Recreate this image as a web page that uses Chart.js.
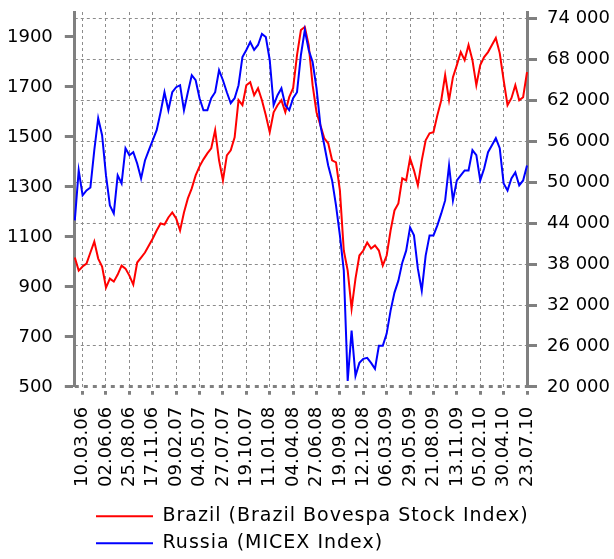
<!DOCTYPE html>
<html>
<head>
<meta charset="utf-8">
<title>Brazil vs Russia stock indices</title>
<script src="https://cdn.jsdelivr.net/npm/chart.js@4.4.1/dist/chart.umd.min.js"></script>
<style>
  html, body { margin: 0; padding: 0; background: #fff; }
  #wrap { width: 614px; height: 559px; }
</style>
</head>
<body>
<div id="wrap"><canvas id="chart"></canvas></div>
<script>
// biweekly closes, first point 10.02.06, last one 23.07.10
const startDate = Date.UTC(2006, 1, 10);
const stepDays = 14;

const tickLabels = ['10.03.06', '02.06.06', '25.08.06', '17.11.06', '09.02.07', '04.05.07',
  '27.07.07', '19.10.07', '11.01.08', '04.04.08', '27.06.08', '19.09.08', '12.12.08',
  '06.03.09', '29.05.09', '21.08.09', '13.11.09', '05.02.10', '30.04.10', '23.07.10'];

// Brazil Bovespa (right axis)
const brazil = [
  38970, 37060, 37650, 38090, 39710, 41320, 38820, 37650, 34560, 35880,
  35440, 36470, 37790, 37350, 36320, 35000, 38240, 38970, 39710, 40740,
  41760, 42940, 43970, 43820, 44850, 45590, 44710, 42940, 45590, 47650,
  49120, 51030, 52350, 53380, 54260, 55000, 57650, 53240, 50290, 53970,
  54710, 56620, 62060, 61320, 64260, 64710, 62790, 63820, 62060, 59850,
  57350, 60290, 61320, 62060, 60290, 62500, 63820, 68680, 72350, 72790,
  70150, 64260, 60290, 58380, 56470, 55740, 53240, 52940, 48820, 40000,
  37060, 31470, 35880, 39270, 40000, 41180, 40290, 40740, 40000, 37790,
  39270, 42940, 45880, 46910, 50590, 50290, 53530, 51770, 49560, 53240,
  56180, 57210, 57350, 59850, 62060, 65740, 62060, 65440, 67210, 69120,
  67940, 70150, 67940, 64260, 67210, 68380, 69120, 70150, 71180, 68970,
  65000, 61320, 62350, 64260, 62060, 62500, 66180
];

// Russia MICEX (left axis)
const russia = [
  1166, 1366, 1266, 1286, 1298, 1447, 1575, 1507, 1346, 1226,
  1194, 1346, 1314, 1455, 1427, 1439, 1394, 1334, 1406, 1447,
  1487, 1527, 1599, 1679, 1607, 1679, 1699, 1707, 1607, 1679,
  1747, 1727, 1655, 1607, 1607, 1655, 1679, 1767, 1727, 1679,
  1635, 1655, 1707, 1820, 1848, 1880, 1848, 1868, 1912, 1900,
  1808, 1627, 1667, 1695, 1627, 1607, 1655, 1679, 1828, 1928,
  1848, 1800, 1695, 1547, 1467, 1386, 1326, 1226, 1106, 965,
  524, 725, 544, 596, 612, 616, 596, 572, 664, 664,
  713, 805, 877, 925, 997, 1045, 1138, 1106, 973, 885,
  1025, 1106, 1106, 1146, 1194, 1246, 1386, 1246, 1326, 1346,
  1366, 1366, 1447, 1427, 1326, 1374, 1439, 1467, 1495, 1455,
  1314, 1286, 1334, 1358, 1306, 1326, 1386
];

const leftTicks = [500, 700, 900, 1100, 1300, 1500, 1700, 1900];
const rightTicks = [20000, 26000, 32000, 38000, 44000, 50000, 56000, 62000, 68000, 74000];

function fmtDate(ms) {
  const d = new Date(ms);
  const p = n => String(n).padStart(2, '0');
  return p(d.getUTCDate()) + '.' + p(d.getUTCMonth() + 1) + '.' + p(d.getUTCFullYear() % 100);
}
const categories = brazil.map((_, i) => fmtDate(startDate + i * stepDays * 864e5));

const AXIS = '#808080';
const GRID = '#8c8c8c';
const font = { family: 'DejaVu Sans', size: 18 };

// scales should not push the plot inward for their edge labels
function noPadding(s) {
  s.paddingTop = 0;
  s.paddingBottom = 0;
  s.paddingLeft = 0;
  s.paddingRight = 0;
}

// legend: letter spaced text, rows left aligned under the plot
const legendTweak = {
  id: 'legendTweak',
  afterInit(chart) {
    const lg = chart.legend;
    const draw = lg.draw.bind(lg);
    lg.draw = function (area) {
      chart.ctx.save();
      chart.ctx.letterSpacing = '1px';
      draw(area);
      chart.ctx.restore();
    };
  },
  afterLayout(chart) {
    const lg = chart.legend;
    const w = lg.right - lg.left;
    const h = lg.bottom - lg.top;
    lg.left = 88;
    lg.right = 88 + w;
    lg.top = chart.chartArea.bottom + 112;
    lg.bottom = lg.top + h;
  }
};

new Chart(document.getElementById('chart'), {
  type: 'line',
  data: {
    labels: categories,
    datasets: [
      {
        label: 'Brazil (Brazil Bovespa Stock Index)',
        data: brazil,
        yAxisID: 'y1',
        borderColor: '#ff0000',
        backgroundColor: '#ff0000',
        borderWidth: 2,
        pointRadius: 0,
        tension: 0,
        order: 1
      },
      {
        label: 'Russia (MICEX Index)',
        data: russia,
        yAxisID: 'y',
        borderColor: '#0000ff',
        backgroundColor: '#0000ff',
        borderWidth: 2,
        pointRadius: 0,
        tension: 0,
        order: 0
      }
    ]
  },
  options: {
    responsive: true,
    maintainAspectRatio: false,
    animation: false,
    // scale widths carry an extra tick padding on their outer side
    layout: { padding: { top: 12, left: -5, right: -6, bottom: -4 } },
    plugins: {
      tooltip: { enabled: false },
      legend: {
        position: 'bottom',
        align: 'start',
        labels: {
          usePointStyle: true,
          pointStyle: 'line',
          pointStyleWidth: 57,
          padding: 8,
          color: '#000',
          font: { family: 'DejaVu Sans', size: 19 },
          sort: (a, b) => a.datasetIndex - b.datasetIndex
        }
      }
    },
    scales: {
      x: {
        type: 'category',
        afterBuildTicks: s => { s.ticks = s.ticks.filter(t => tickLabels.includes(categories[t.value])); },
        afterFit: noPadding,
        grid: {
          color: GRID,
          lineWidth: 1,
          tickLength: 8,
          tickWidth: 3,
          tickColor: AXIS,
          tickBorderDash: [0, 4, 4, 20]
        },
        border: { display: false, dash: [3, 3] },
        ticks: { autoSkip: false, minRotation: 90, maxRotation: 90, padding: 12, color: '#000', font }
      },
      y: {
        position: 'left',
        min: 500,
        max: 2000,
        afterBuildTicks: s => { s.ticks = leftTicks.map(v => ({ value: v })); },
        afterFit: noPadding,
        grid: { drawOnChartArea: false, tickLength: 10, tickWidth: 3, tickColor: AXIS },
        border: { color: AXIS, width: 3 },
        ticks: { padding: 12, color: '#000', font, callback: v => String(v) }
      },
      y1: {
        position: 'right',
        min: 20000,
        max: 75000,
        afterBuildTicks: s => { s.ticks = rightTicks.map(v => ({ value: v })); },
        afterFit: noPadding,
        grid: {
          color: c => (c.tick && c.tick.value === 20000) ? AXIS : GRID,
          lineWidth: c => (c.tick && c.tick.value === 20000) ? 3 : 1,
          tickLength: 10,
          tickWidth: 3,
          tickColor: AXIS
        },
        border: {
          color: AXIS,
          width: 3,
          dash: c => (c.tick && c.tick.value === 20000) ? [4, 5] : [3, 3]
        },
        ticks: {
          padding: 10,
          color: '#000',
          font,
          callback: v => String(v).replace(/\B(?=(\d{3})+(?!\d))/g, ' ')
        }
      }
    }
  },
  plugins: [legendTweak]
});
</script>
</body>
</html>
